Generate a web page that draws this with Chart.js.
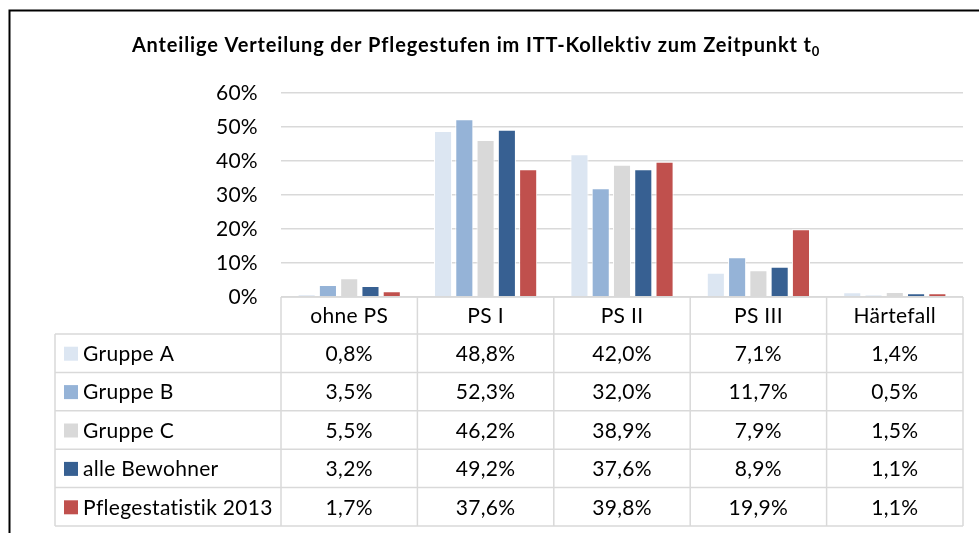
<!DOCTYPE html>
<html>
<head>
<meta charset="utf-8">
<script src="https://cdn.jsdelivr.net/npm/chart.js@4.4.0/dist/chart.umd.min.js"></script>
<style>
  html, body { margin: 0; padding: 0; background: #fff; }
  #wrap { position: relative; width: 979px; height: 533px; }
  canvas { display: block; }
</style>
</head>
<body>
<div id="wrap"><canvas id="c" width="979" height="533"></canvas></div>
<script>
// ---- data ----
const categories = ['ohne PS', 'PS I', 'PS II', 'PS III', 'Härtefall'];
const seriesNames = ['Gruppe A', 'Gruppe B', 'Gruppe C', 'alle Bewohner', 'Pflegestatistik 2013'];
const gruppeA = [0.8, 48.8, 42.0, 7.1, 1.4];
const gruppeB = [3.5, 52.3, 32.0, 11.7, 0.5];
const gruppeC = [5.5, 46.2, 38.9, 7.9, 1.5];
const alleBewohner = [3.2, 49.2, 37.6, 8.9, 1.1];
const pflegestatistik2013 = [1.7, 37.6, 39.8, 19.9, 1.1];
const yTicks = [0, 10, 20, 30, 40, 50, 60];
const titleMain = 'Anteilige Verteilung der Pflegestufen im ITT-Kollektiv zum Zeitpunkt t';
const titleSub = '0';

const seriesValues = [gruppeA, gruppeB, gruppeC, alleBewohner, pflegestatistik2013];
const seriesColors = ['#DCE6F2', '#95B3D7', '#D9D9D9', '#376092', '#C0504D'];

const FONT = 'Lato, "Open Sans", sans-serif';
const SPACING = '0.3px';
const fmt = v => v.toFixed(1).replace('.', ',') + '%';

const spacingPlugin = {
  id: 'spacingPlugin',
  beforeDraw(chart) { chart.ctx.letterSpacing = SPACING; }
};

const tablePlugin = {
  id: 'tablePlugin',
  afterDraw(chart) {
    const ctx = chart.ctx;
    const xs = chart.scales.x;
    const area = chart.chartArea;
    const n = categories.length;
    const colW = (area.right - area.left) / n;
    const headerTop = area.bottom;
    const headerBottom = 334;
    const rowH = 38.4;
    const tableLeft = 55;
    const nRows = seriesNames.length;
    const tableBottom = headerBottom + rowH * nRows;

    ctx.save();
    ctx.letterSpacing = SPACING;
    ctx.strokeStyle = '#D9D9D9';
    ctx.lineWidth = 1.5;
    ctx.beginPath();
    ctx.moveTo(area.left, headerTop); ctx.lineTo(area.right, headerTop);
    ctx.stroke();
    for (let i = 0; i <= n; i++) {
      const x = area.left + i * colW;
      ctx.beginPath(); ctx.moveTo(x, headerTop); ctx.lineTo(x, tableBottom); ctx.stroke();
    }
    ctx.beginPath(); ctx.moveTo(tableLeft, headerBottom); ctx.lineTo(tableLeft, tableBottom); ctx.stroke();
    for (let r = 0; r <= nRows; r++) {
      const y = headerBottom + r * rowH;
      ctx.beginPath(); ctx.moveTo(tableLeft, y); ctx.lineTo(area.right, y); ctx.stroke();
    }

    ctx.fillStyle = '#000';
    ctx.font = '21px ' + FONT;
    ctx.textBaseline = 'middle';
    ctx.textAlign = 'center';
    for (let i = 0; i < n; i++) {
      ctx.fillText(categories[i], xs.getPixelForValue(i), (headerTop + headerBottom) / 2 + 1);
    }
    for (let r = 0; r < nRows; r++) {
      const yc = headerBottom + r * rowH + rowH / 2 + 1;
      ctx.fillStyle = seriesColors[r];
      ctx.fillRect(64, yc - 7.5, 14, 14);
      ctx.fillStyle = '#000';
      ctx.textAlign = 'left';
      ctx.fillText(seriesNames[r], 83, yc);
      ctx.textAlign = 'center';
      for (let i = 0; i < n; i++) {
        ctx.fillText(fmt(seriesValues[r][i]), xs.getPixelForValue(i), yc);
      }
    }

    // title
    ctx.letterSpacing = '0.85px';
    ctx.font = 'bold 20px ' + FONT;
    ctx.textAlign = 'left';
    ctx.textBaseline = 'alphabetic';
    const wMain = ctx.measureText(titleMain).width;
    ctx.font = 'bold 13px ' + FONT;
    const wSub = ctx.measureText(titleSub).width;
    const cx = 476;
    const startX = cx - (wMain + wSub) / 2;
    ctx.font = 'bold 20px ' + FONT;
    ctx.fillText(titleMain, startX, 52);
    ctx.font = 'bold 13px ' + FONT;
    ctx.fillText(titleSub, startX + wMain, 56);

    // outer frame
    ctx.letterSpacing = '0px';
    ctx.strokeStyle = '#000';
    ctx.lineWidth = 2;
    ctx.beginPath();
    ctx.moveTo(9.5, 540); ctx.lineTo(9.5, 10.5); ctx.lineTo(985, 10.5);
    ctx.stroke();
    ctx.restore();
  }
};

const datasets = seriesNames.map((name, i) => ({
  label: name,
  data: seriesValues[i],
  backgroundColor: seriesColors[i],
  borderColor: '#FFFFFF',
  borderWidth: 1,
  borderSkipped: 'bottom',
  categoryPercentage: 0.78,
  barPercentage: 0.85
}));

new Chart(document.getElementById('c'), {
  type: 'bar',
  data: { labels: categories, datasets },
  options: {
    responsive: false,
    animation: false,
    devicePixelRatio: 1,
    layout: { padding: { top: 93, bottom: 236, left: 0, right: 16 } },
    plugins: { legend: { display: false }, title: { display: false }, tooltip: { enabled: false } },
    scales: {
      x: {
        ticks: { display: false },
        grid: { display: false, drawTicks: false },
        border: { display: false }
      },
      y: {
        min: 0, max: 60,
        afterBuildTicks(scale) { scale.ticks = yTicks.map(v => ({ value: v })); },
        afterFit(scale) { scale.width = 281; },
        ticks: {
          padding: 23,
          color: '#000',
          font: { family: FONT, size: 21 },
          callback: v => v + '%'
        },
        grid: { color: '#D9D9D9', lineWidth: 1.5, drawTicks: false },
        border: { display: false }
      }
    }
  },
  plugins: [spacingPlugin, tablePlugin]
});
</script>
</body>
</html>
